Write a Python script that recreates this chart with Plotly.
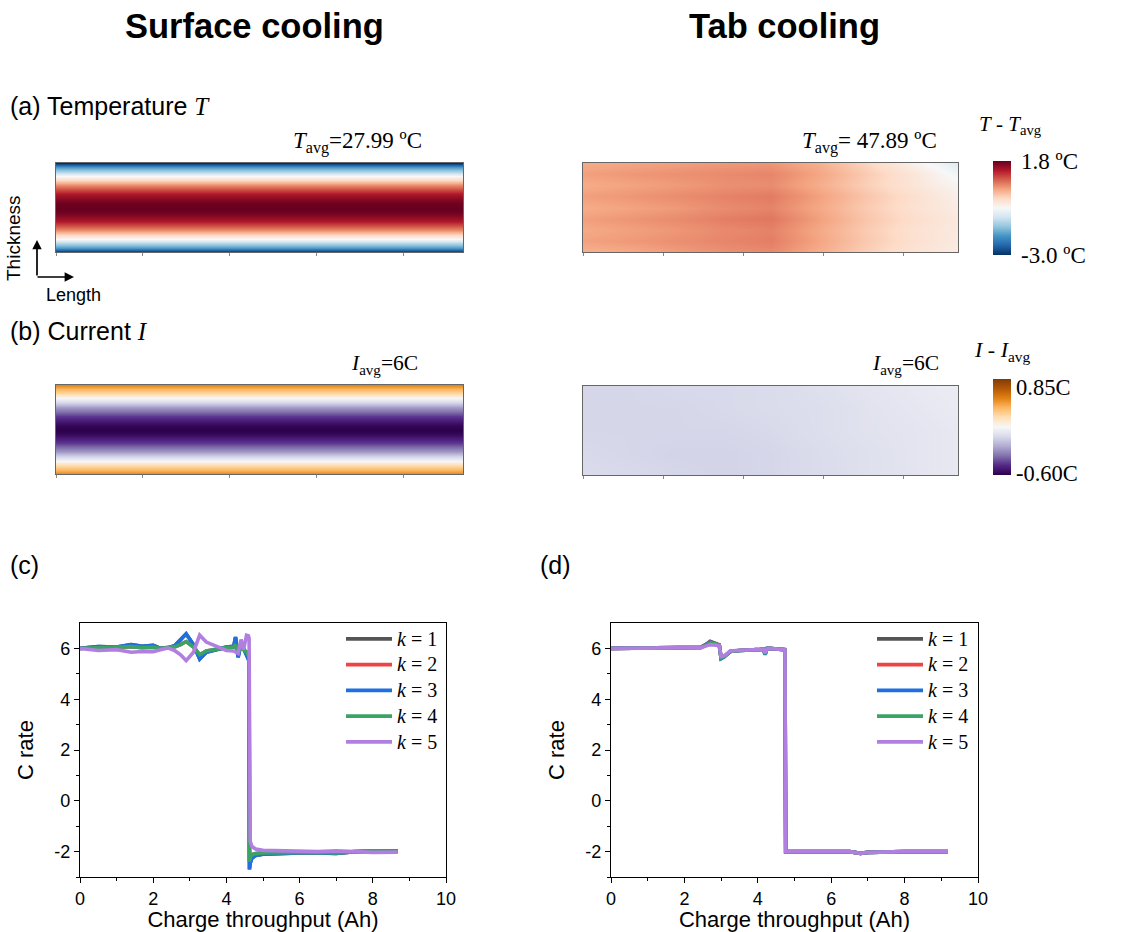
import plotly.graph_objects as go

W, H = 1126, 932

# ---------------- data ----------------
# thickness positions (fraction of thickness, 0 = bottom, 1 = top)
thick_pos = [0.0, 0.05, 0.1, 0.15, 0.2, 0.25, 0.3, 0.35, 0.4, 0.45, 0.5,
             0.55, 0.6, 0.65, 0.7, 0.75, 0.8, 0.85, 0.9, 0.95, 1.0]
# Surface cooling: T - Tavg profile through thickness (uniform along length)
T_surface_profile = [-3.0, -2.0, -1.3, -0.6, 0.0, 0.55, 1.0, 1.35, 1.6, 1.75, 1.8,
                     1.75, 1.6, 1.35, 1.0, 0.55, 0.0, -0.6, -1.3, -2.0, -3.0]
# Surface cooling: I - Iavg profile through thickness
I_surface_profile = [0.55, 0.42, 0.28, 0.12, -0.05, -0.2, -0.32, -0.42, -0.5, -0.57, -0.6,
                     -0.57, -0.5, -0.42, -0.32, -0.2, -0.05, 0.12, 0.28, 0.42, 0.55]
len_pos_uniform = [0.0, 1.0]

# Tab cooling maps (rows top -> bottom, columns along length)
len_pos = [0.0, 0.125, 0.25, 0.375, 0.5, 0.625, 0.75, 0.875, 1.0]
tab_rows_T = [1.0, 0.875, 0.75, 0.625, 0.5, 0.375, 0.25, 0.125, 0.0]
T_tab = [
    [0.30, 0.36, 0.40, 0.44, 0.46, 0.28, -0.05, -0.45, -0.90],
    [0.40, 0.45, 0.50, 0.55, 0.58, 0.36, 0.04, -0.28, -0.68],
    [0.30, 0.37, 0.43, 0.50, 0.53, 0.30, 0.00, -0.28, -0.55],
    [0.40, 0.46, 0.53, 0.60, 0.65, 0.40, 0.09, -0.18, -0.45],
    [0.30, 0.37, 0.44, 0.54, 0.59, 0.34, 0.04, -0.22, -0.40],
    [0.40, 0.47, 0.54, 0.63, 0.68, 0.41, 0.09, -0.16, -0.35],
    [0.32, 0.39, 0.46, 0.55, 0.60, 0.34, 0.04, -0.22, -0.36],
    [0.38, 0.44, 0.51, 0.58, 0.63, 0.37, 0.06, -0.20, -0.37],
    [0.25, 0.33, 0.42, 0.50, 0.55, 0.30, 0.00, -0.25, -0.40],
]
tab_rows_I = [1.0, 0.75, 0.5, 0.25, 0.0]
I_tab = [
    [-0.03, -0.03, -0.02, -0.02, -0.01, 0.01, 0.03, 0.05, 0.07],
    [-0.03, -0.03, -0.03, -0.02, -0.01, 0.00, 0.02, 0.04, 0.06],
    [-0.03, -0.03, -0.03, -0.03, -0.02, 0.00, 0.02, 0.03, 0.05],
    [-0.02, -0.03, -0.04, -0.04, -0.03, -0.01, 0.01, 0.03, 0.05],
    [-0.01, -0.02, -0.03, -0.04, -0.03, -0.01, 0.01, 0.03, 0.05],
]
T_range = [-3.0, 1.8]
I_range = [-0.60, 0.85]
T_ticktext = ["1.8 ºC", "-3.0 ºC"]
I_ticktext = ["0.85C", "-0.60C"]

# (c) surface cooling C-rate vs charge throughput
xc = [0, 0.5, 1.0, 1.4, 1.7, 2.0, 2.2, 2.4, 2.6, 2.75, 2.9, 3.1, 3.27, 3.45, 3.7, 4.0,
      4.2, 4.25, 4.32, 4.4, 4.47, 4.55, 4.6, 4.62, 4.63, 4.65, 4.7, 4.8, 5.0, 5.5,
      6.0, 6.5, 7.0, 7.5, 8.0, 8.68]
c_k1 = [6.0, 6.07, 6.05, 6.15, 6.08, 6.12, 6.0, 6.02, 6.12, 6.35, 6.57, 6.15, 5.58, 5.85, 5.95, 6.05,
        6.08, 6.45, 5.65, 6.2, 6.0, 5.75, 5.55, 5.5, -2.7, -2.45, -2.25, -2.15, -2.1, -2.07,
        -2.05, -2.05, -2.07, -2.0, -1.98, -1.98]
c_k2 = [6.0, 6.02, 6.02, 6.07, 6.03, 6.05, 6.0, 6.02, 6.07, 6.15, 6.27, 6.05, 5.75, 5.9, 5.97, 6.03,
        6.05, 6.15, 5.85, 6.05, 5.95, 5.85, 5.72, 5.7, -2.4, -2.25, -2.12, -2.08, -2.05, -2.04,
        -2.03, -2.03, -2.05, -2.0, -1.97, -1.99]
c_k3 = [6.0, 6.07, 6.05, 6.15, 6.08, 6.12, 6.0, 6.02, 6.12, 6.35, 6.57, 6.15, 5.58, 5.85, 5.95, 6.05,
        6.08, 6.45, 5.65, 6.2, 6.0, 5.75, 5.55, 5.5, -2.7, -2.45, -2.25, -2.15, -2.1, -2.07,
        -2.05, -2.05, -2.07, -2.0, -1.98, -1.98]
c_k4 = [6.0, 6.02, 6.02, 6.07, 6.03, 6.05, 6.0, 6.02, 6.07, 6.15, 6.27, 6.05, 5.75, 5.9, 5.97, 6.03,
        6.05, 6.15, 5.85, 6.05, 5.95, 5.85, 5.72, 5.7, -2.4, -2.25, -2.12, -2.08, -2.05, -2.04,
        -2.03, -2.03, -2.05, -2.0, -1.97, -1.99]
c_k5 = [6.0, 5.92, 5.95, 5.85, 5.88, 5.87, 5.95, 6.02, 5.9, 5.75, 5.52, 5.85, 6.52, 6.25, 6.1, 5.92,
        5.9, 5.85, 5.8, 6.35, 5.95, 6.52, 6.5, 6.4, -1.3, -1.6, -1.8, -1.9, -1.95, -1.97,
        -1.98, -2.0, -1.97, -2.0, -2.03, -2.02]

# (d) tab cooling
xd = [0, 1.0, 2.0, 2.45, 2.6, 2.7, 2.85, 2.95, 3.0, 3.1, 3.25, 3.5, 4.0, 4.15, 4.2, 4.25,
      4.3, 4.5, 4.74, 4.76, 5.0, 6.0, 6.5, 6.8, 7.0, 8.0, 9.18]
d_k1 = [6.0, 6.02, 6.03, 6.04, 6.17, 6.28, 6.2, 6.14, 5.62, 5.7, 5.88, 5.92, 5.95, 5.97, 5.78, 5.99,
        6.0, 5.97, 5.95, -2.0, -2.0, -2.0, -2.0, -2.07, -2.03, -2.0, -2.0]
d_k2 = [6.0, 6.02, 6.03, 6.04, 6.16, 6.26, 6.19, 6.13, 5.61, 5.69, 5.88, 5.92, 5.95, 5.97, 5.77, 5.99,
        6.0, 5.97, 5.95, -2.0, -2.0, -2.0, -2.0, -2.07, -2.03, -2.0, -2.0]
d_k3 = [6.0, 6.02, 6.03, 6.04, 6.15, 6.25, 6.18, 6.12, 5.6, 5.68, 5.88, 5.92, 5.95, 5.97, 5.75, 6.0,
        6.0, 5.97, 5.95, -2.0, -2.0, -2.0, -2.0, -2.07, -2.03, -2.0, -2.0]
d_k4 = [6.0, 6.02, 6.03, 6.04, 6.13, 6.22, 6.17, 6.12, 5.62, 5.7, 5.88, 5.92, 5.95, 5.97, 5.78, 5.99,
        6.0, 5.97, 5.95, -2.0, -2.0, -2.0, -2.0, -2.07, -2.03, -2.0, -2.0]
d_k5 = [6.0, 6.02, 6.03, 6.03, 6.1, 6.15, 6.13, 6.1, 5.68, 5.72, 5.9, 5.93, 5.95, 5.97, 5.82, 5.98,
        6.0, 5.97, 5.95, -2.0, -2.0, -2.0, -2.0, -2.07, -2.03, -2.0, -2.0]

k_labels = ["1", "2", "3", "4", "5"]
k_colors = ["#555555", "#f04444", "#1f6fe0", "#3aa466", "#b07fe0"]

y_tickvals = [-2, 0, 2, 4, 6]
y_ticktext = ["-2", "0", "2", "4", "6"]
x_tickvals = [0, 2, 4, 6, 8, 10]
x_ticktext = ["0", "2", "4", "6", "8", "10"]

# ---------------- styles ----------------
SANS = "Arial, Liberation Sans, sans-serif"
SERIF = "Times New Roman, Liberation Serif, serif"

RdBu_r = [[0.0, "#053061"], [0.1, "#2166ac"], [0.2, "#4393c3"], [0.3, "#92c5de"],
          [0.4, "#d1e5f0"], [0.5, "#f7f7f7"], [0.6, "#fddbc7"], [0.7, "#f4a582"],
          [0.8, "#d6604d"], [0.9, "#b2182b"], [1.0, "#67001f"]]
PuOr_r = [[0.0, "#2d004b"], [0.1, "#542788"], [0.2, "#8073ac"], [0.3, "#b2abd2"],
          [0.4, "#d8daeb"], [0.5, "#f7f7f7"], [0.6, "#fee0b6"], [0.7, "#fdb863"],
          [0.8, "#e08214"], [0.9, "#b35806"], [1.0, "#7f3b08"]]


def X(px):
    return px / W


def Y(py):
    return 1 - py / H


def kname(lbl):
    return "<span style='font-size:20px'><i>k</i> = %s</span>" % lbl


fig = go.Figure()

# heatmaps
fig.add_trace(go.Heatmap(z=[[v, v] for v in T_surface_profile], x=len_pos_uniform, y=thick_pos,
                         colorscale=RdBu_r, zmin=T_range[0], zmax=T_range[1], zsmooth="best",
                         showscale=False, xaxis="x", yaxis="y", hoverinfo="skip"))
fig.add_trace(go.Heatmap(z=T_tab, x=len_pos, y=tab_rows_T,
                         colorscale=RdBu_r, zmin=T_range[0], zmax=T_range[1], zsmooth="best",
                         showscale=True, xaxis="x2", yaxis="y2", hoverinfo="skip",
                         colorbar=dict(x=X(993), xanchor="left", y=Y(208), yanchor="middle",
                                       len=94, lenmode="pixels", thickness=18, xpad=0, ypad=0,
                                       outlinewidth=0, ticks="outside", ticklen=6,
                                       tickcolor="rgba(0,0,0,0)", tickvals=T_range[::-1],
                                       ticktext=T_ticktext,
                                       tickfont=dict(family=SERIF, size=23, color="black"))))
fig.add_trace(go.Heatmap(z=[[v, v] for v in I_surface_profile], x=len_pos_uniform, y=thick_pos,
                         colorscale=PuOr_r, zmin=I_range[0], zmax=I_range[1], zsmooth="best",
                         showscale=False, xaxis="x3", yaxis="y3", hoverinfo="skip"))
fig.add_trace(go.Heatmap(z=I_tab, x=len_pos, y=tab_rows_I,
                         colorscale=PuOr_r, zmin=I_range[0], zmax=I_range[1], zsmooth="best",
                         showscale=True, xaxis="x4", yaxis="y4", hoverinfo="skip",
                         colorbar=dict(x=X(993), xanchor="left", y=Y(427), yanchor="middle",
                                       len=96, lenmode="pixels", thickness=18, xpad=0, ypad=0,
                                       outlinewidth=0, ticks="", tickvals=[0.72, -0.57],
                                       ticktext=I_ticktext,
                                       tickfont=dict(family=SERIF, size=22.5, color="black"))))

# line plots
for ys, lbl, col in zip([c_k1, c_k2, c_k3, c_k4, c_k5], k_labels, k_colors):
    fig.add_trace(go.Scatter(x=xc, y=ys, mode="lines", name=kname(lbl), legend="legend",
                             line=dict(color=col, width=3.6), xaxis="x5", yaxis="y5"))
for ys, lbl, col in zip([d_k1, d_k2, d_k3, d_k4, d_k5], k_labels, k_colors):
    fig.add_trace(go.Scatter(x=xd, y=ys, mode="lines", name=kname(lbl), legend="legend2",
                             line=dict(color=col, width=3.6), xaxis="x6", yaxis="y6"))

hm_x = dict(range=[0, 1], showticklabels=False, ticks="outside", ticklen=3, tickcolor="#888",
            dtick=0.2137, tick0=0, showline=True, mirror=True, linecolor="#666", linewidth=1,
            showgrid=False, zeroline=False, fixedrange=True)
hm_y = dict(range=[0, 1], showticklabels=False, ticks="", showline=True, mirror=True,
            linecolor="#666", linewidth=1, showgrid=False, zeroline=False, fixedrange=True)

line_x = dict(range=[0, 10], tickmode="array", tickvals=x_tickvals, ticktext=x_ticktext,
              ticks="outside", ticklen=5, tickwidth=1.3,
              minor=dict(tickmode="array", tickvals=[1, 3, 5, 7, 9], ticks="outside", ticklen=3,
                         tickwidth=1.2, tickcolor="black"),
              showline=True, mirror=True, linecolor="black", linewidth=1.3, tickcolor="black",
              showgrid=False, zeroline=False,
              tickfont=dict(family=SANS, size=18, color="black"),
              title=dict(text="Charge throughput (Ah)", font=dict(family=SANS, size=22, color="black"),
                         standoff=3))
line_y = dict(range=[-3, 7], tickmode="array", tickvals=y_tickvals, ticktext=y_ticktext,
              ticks="outside", ticklen=5, tickwidth=1.3,
              minor=dict(tickmode="array", tickvals=[-3, -1, 1, 3, 5], ticks="outside", ticklen=3,
                         tickwidth=1.2, tickcolor="black"),
              showline=True, mirror=True, linecolor="black", linewidth=1.3, tickcolor="black",
              showgrid=False, zeroline=False,
              tickfont=dict(family=SANS, size=18, color="black"),
              title=dict(text="C rate", font=dict(family=SANS, size=22, color="black"),
                         standoff=14))

legend_common = dict(font=dict(family=SERIF, size=17.5, color="black"), bgcolor="rgba(0,0,0,0)",
                     borderwidth=0, xanchor="left", yanchor="top", tracegroupgap=0,
                     itemwidth=46)

fig.update_layout(
    width=W, height=H, margin=dict(l=0, r=0, t=0, b=0, autoexpand=False),
    paper_bgcolor="white", plot_bgcolor="white",
    xaxis=dict(domain=[X(56), X(463)], anchor="y", **hm_x),
    yaxis=dict(domain=[Y(252), Y(163)], anchor="x", **hm_y),
    xaxis2=dict(domain=[X(583), X(958)], anchor="y2", **hm_x),
    yaxis2=dict(domain=[Y(252), Y(163)], anchor="x2", **hm_y),
    xaxis3=dict(domain=[X(56), X(463)], anchor="y3", **hm_x),
    yaxis3=dict(domain=[Y(474), Y(385)], anchor="x3", **hm_y),
    xaxis4=dict(domain=[X(583), X(958)], anchor="y4", **hm_x),
    yaxis4=dict(domain=[Y(475), Y(386)], anchor="x4", **hm_y),
    xaxis5=dict(domain=[X(80), X(446)], anchor="y5", **line_x),
    yaxis5=dict(domain=[Y(877), Y(623)], anchor="x5", **line_y),
    xaxis6=dict(domain=[X(611), X(978)], anchor="y6", **line_x),
    yaxis6=dict(domain=[Y(877), Y(623)], anchor="x6", **line_y),
    legend=dict(x=X(341), y=Y(621), **legend_common),
    legend2=dict(x=X(872), y=Y(621), **legend_common),
    showlegend=True,
)

ann = []


def text(x, y, s, size, family=SANS, xanchor="left", yanchor="middle", angle=0):
    ann.append(dict(x=X(x), y=Y(y), xref="paper", yref="paper", text=s, showarrow=False,
                    xanchor=xanchor, yanchor=yanchor, textangle=angle,
                    font=dict(family=family, size=size, color="black")))


ital = "<span style='font-family:Times New Roman, Liberation Serif, serif'><i>%s</i></span>"

text(254, 26, "<b>Surface cooling</b>", 34.5, xanchor="center")
text(785, 26, "<b>Tab cooling</b>", 34.5, xanchor="center")
text(8, 106, "(a) Temperature " + ital % "T", 25)
text(8, 331, "(b) Current " + ital % "I", 25)
text(8, 565, "(c)", 25)
text(538, 565, "(d)", 25)
text(424, 143, "<i>T</i><sub>avg</sub>=27.99 ºC", 23, family=SERIF, xanchor="right")
text(939, 143, "<i>T</i><sub>avg</sub>= 47.89 ºC", 23, family=SERIF, xanchor="right")
text(420, 364, "<i>I</i><sub>avg</sub>=6C", 21.5, family=SERIF, xanchor="right")
text(941, 364, "<i>I</i><sub>avg</sub>=6C", 21.5, family=SERIF, xanchor="right")
text(977, 125, "<i>T</i> - <i>T</i><sub>avg</sub>", 21, family=SERIF)
text(972, 351, "<i>I</i> - <i>I</i><sub>avg</sub>", 22, family=SERIF)
text(14, 238, "Thickness", 19, xanchor="center", angle=-90)
text(44, 295, "Length", 18)

# orientation arrows (head position, tail offset in pixels)
for hx, hy, dx, dy in [(37, 240, 0, 37), (74, 277, -38, 0)]:
    ann.append(dict(x=X(hx), y=Y(hy), ax=dx, ay=dy, xref="paper", yref="paper",
                    axref="pixel", ayref="pixel", text="", showarrow=True, arrowhead=2,
                    arrowsize=1.1, arrowwidth=1.7, arrowcolor="black"))

fig.update_layout(annotations=ann)
fig.write_html("out.html", config={"displayModeBar": False},
               post_script="document.body.style.margin='0';")
